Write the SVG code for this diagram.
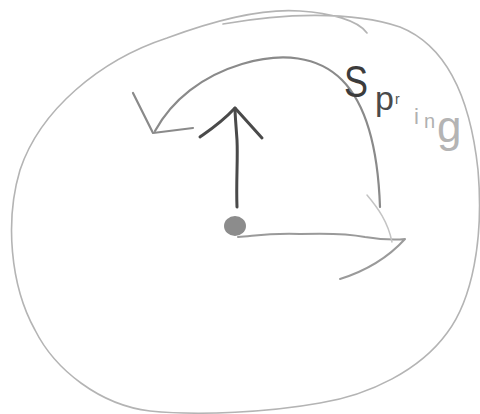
<svg xmlns="http://www.w3.org/2000/svg" width="480" height="414" viewBox="0 0 480 414">
<style>
.s{fill:none;stroke-linecap:round;stroke-linejoin:round}
.outer{stroke:#b4b4b4;stroke-width:1.6}
.arc{stroke:#8a8a8a;stroke-width:2.2}
.up{stroke:#4a4a4a;stroke-width:3}
.hz{stroke:#9a9a9a;stroke-width:2}
.faint{stroke:#c4c4c4;stroke-width:1.5}
.t{font-family:"Liberation Sans",Arial,sans-serif}
</style>
<rect width="480" height="414" fill="#fff"/>
<g id="loop">
<path class="s outer" d="M 223 24 C 280 14, 350 10, 400 27 C 445 45, 470 95, 478 170 C 484 240, 472 300, 447 333 C 420 370, 370 395, 320 403 C 270 412, 200 416, 150 411 C 100 405, 55 370, 35 330 C 10 285, 5 220, 20 170 C 40 110, 100 60, 167 38 C 210 22, 260 8, 300 11 C 330 13, 358 20, 367 33"/>
</g>
<g id="pivot">
<ellipse cx="235" cy="226" rx="11" ry="10" fill="#8c8c8c"/>
</g>
<g id="connectors">
<path class="s arc" d="M 380 207 C 378 150, 366 104, 342 80 C 318 56, 282 52, 242 64 C 202 76, 172 100, 155 131"/>
<path class="s arc" d="M 133 93 L 153 133 L 193 128"/>
<path class="s up" d="M 237 207 C 236 180, 238 160, 237 140 C 236 125, 235 115, 235 108"/>
<path class="s up" d="M 200 137 C 210 130, 222 122, 235 108 L 262 138"/>
<path class="s hz" d="M 238 237 C 255 236, 265 233, 300 234 C 330 233, 350 234, 365 237 C 378 239, 395 240, 405 239 C 395 250, 375 268, 340 279"/>
<path class="s faint" d="M 367 195 C 378 208, 388 222, 392 242"/>
</g>
<g id="label">
<text class="t"><tspan x="344" y="97" font-size="44" fill="#3c3c3c" textLength="24" lengthAdjust="spacingAndGlyphs">S</tspan><tspan x="375" y="110" font-size="34" fill="#4a4a4a">p</tspan><tspan x="395" y="104" font-size="14" fill="#555">r</tspan><tspan x="414" y="124" font-size="22" fill="#b0b0b0">i</tspan><tspan x="424" y="128" font-size="20" fill="#b0b0b0">n</tspan><tspan x="437" y="142" font-size="44" fill="#b4b4b4">g</tspan></text>
</g>
</svg>
